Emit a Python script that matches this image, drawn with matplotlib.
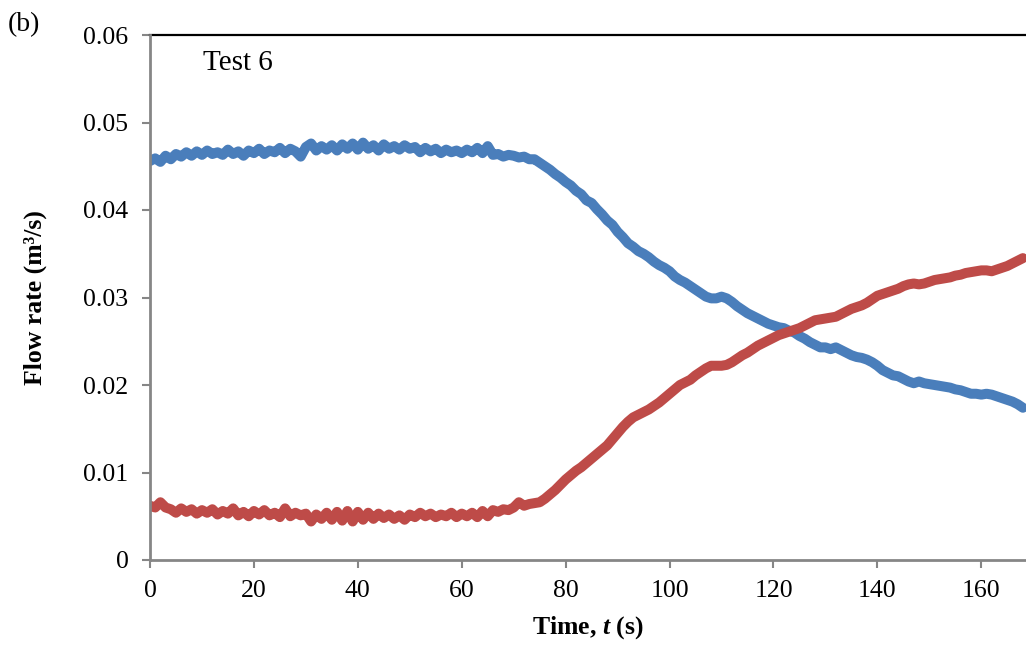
import matplotlib
matplotlib.use("Agg")
import matplotlib.pyplot as plt
import numpy as np

# ---- data (1 s resolution) ----
time_s = list(range(0, 169))

flow_blue = [
    0.0456, 0.0459, 0.0455, 0.0462, 0.0458, 0.0464, 0.0461, 0.0466, 0.0462, 0.0467,
    0.0463, 0.0468, 0.0464, 0.0466, 0.0463, 0.0469, 0.0464, 0.0467, 0.0462, 0.0468,
    0.0465, 0.0470, 0.0464, 0.0468, 0.0466, 0.0471, 0.0465, 0.0470, 0.0467, 0.0461,
    0.0472, 0.0476, 0.0468, 0.0473, 0.0469, 0.0474, 0.0468, 0.0475, 0.0470, 0.0476,
    0.0469, 0.0477, 0.0470, 0.0474, 0.0468, 0.0475, 0.0470, 0.0473, 0.0469, 0.0474,
    0.0470, 0.0472, 0.0466, 0.0471, 0.0467, 0.0470, 0.0465, 0.0469, 0.0466, 0.0468,
    0.0465, 0.0469, 0.0466, 0.0471, 0.0465, 0.0473, 0.0463, 0.0464, 0.0461, 0.0463,
    0.0462, 0.0460, 0.0461, 0.0458, 0.0458, 0.0454, 0.0450, 0.0446, 0.0441, 0.0437,
    0.0432, 0.0428, 0.0422, 0.0418, 0.0411, 0.0408, 0.0401, 0.0395, 0.0388, 0.0383,
    0.0375, 0.0369, 0.0362, 0.0358, 0.0353, 0.0350, 0.0346, 0.0341, 0.0337, 0.0334,
    0.0330, 0.0324, 0.0320, 0.0317, 0.0313, 0.0309, 0.0305, 0.0301, 0.0299, 0.0299,
    0.0301, 0.0299, 0.0295, 0.0290, 0.0286, 0.0282, 0.0279, 0.0276, 0.0273, 0.0270,
    0.0268, 0.0266, 0.0265, 0.0262, 0.0260, 0.0256, 0.0253, 0.0249, 0.0246, 0.0243,
    0.0243, 0.0241, 0.0243, 0.0240, 0.0237, 0.0234, 0.0232, 0.0231, 0.0229, 0.0226,
    0.0222, 0.0217, 0.0214, 0.0211, 0.0210, 0.0207, 0.0204, 0.0202, 0.0204, 0.0202,
    0.0201, 0.0200, 0.0199, 0.0198, 0.0197, 0.0195, 0.0194, 0.0192, 0.0190, 0.0190,
    0.0189, 0.0190, 0.0189, 0.0187, 0.0185, 0.0183, 0.0181, 0.0178, 0.0174,
]

flow_red = [
    0.0062, 0.0060, 0.0066, 0.0060, 0.0058, 0.0054, 0.0059, 0.0055, 0.0058, 0.0053,
    0.0057, 0.0054, 0.0058, 0.0052, 0.0056, 0.0053, 0.0059, 0.0051, 0.0055, 0.0050,
    0.0056, 0.0052, 0.0057, 0.0051, 0.0054, 0.0049, 0.0059, 0.0050, 0.0054, 0.0051,
    0.0053, 0.0044, 0.0052, 0.0047, 0.0054, 0.0046, 0.0055, 0.0045, 0.0056, 0.0044,
    0.0055, 0.0046, 0.0054, 0.0047, 0.0053, 0.0048, 0.0052, 0.0047, 0.0051, 0.0046,
    0.0052, 0.0049, 0.0054, 0.0050, 0.0053, 0.0049, 0.0052, 0.0050, 0.0054, 0.0049,
    0.0053, 0.0050, 0.0054, 0.0049, 0.0056, 0.0050, 0.0057, 0.0055, 0.0058, 0.0057,
    0.0060, 0.0066, 0.0062, 0.0064, 0.0065, 0.0066, 0.0070, 0.0075, 0.0080, 0.0086,
    0.0092, 0.0097, 0.0102, 0.0106, 0.0111, 0.0116, 0.0121, 0.0126, 0.0131, 0.0138,
    0.0145, 0.0152, 0.0158, 0.0163, 0.0166, 0.0169, 0.0172, 0.0176, 0.0180, 0.0185,
    0.0190, 0.0195, 0.0200, 0.0203, 0.0206, 0.0211, 0.0215, 0.0219, 0.0222, 0.0222,
    0.0222, 0.0223, 0.0226, 0.0230, 0.0234, 0.0237, 0.0241, 0.0245, 0.0248, 0.0251,
    0.0254, 0.0257, 0.0259, 0.0261, 0.0263, 0.0265, 0.0268, 0.0271, 0.0274, 0.0275,
    0.0276, 0.0277, 0.0278, 0.0281, 0.0284, 0.0287, 0.0289, 0.0291, 0.0294, 0.0298,
    0.0302, 0.0304, 0.0306, 0.0308, 0.0310, 0.0313, 0.0315, 0.0316, 0.0315, 0.0316,
    0.0318, 0.0320, 0.0321, 0.0322, 0.0323, 0.0325, 0.0326, 0.0328, 0.0329, 0.0330,
    0.0331, 0.0331, 0.0330, 0.0332, 0.0334, 0.0336, 0.0339, 0.0342, 0.0345,
]

x_ticks = [0, 20, 40, 60, 80, 100, 120, 140, 160]
y_ticks = [0, 0.01, 0.02, 0.03, 0.04, 0.05, 0.06]
y_tick_labels = ["0", "0.01", "0.02", "0.03", "0.04", "0.05", "0.06"]

# ---- style ----
plt.rcParams["font.family"] = ["Liberation Serif", "DejaVu Serif"]
plt.rcParams["mathtext.fontset"] = "custom"
plt.rcParams["mathtext.it"] = "Liberation Serif:bold:italic"
plt.rcParams["mathtext.rm"] = "Liberation Serif:bold"
plt.rcParams["mathtext.bf"] = "Liberation Serif:bold"

fig = plt.figure(figsize=(10.26, 6.46), dpi=100)
ax = fig.add_axes([150 / 1026, 86 / 646, 876 / 1026, 525 / 646])

blue = "#4A7EBB"
red = "#BE4B48"
ax.plot(time_s, flow_blue, color=blue, lw=7.2, solid_joinstyle="round",
        solid_capstyle="round", zorder=3)
ax.plot(time_s, flow_red, color=red, lw=7.2, solid_joinstyle="round",
        solid_capstyle="round", zorder=4)

ax.set_xlim(0, 168.6)
ax.set_ylim(0, 0.06)
ax.set_xticks(x_ticks)
ax.set_xticklabels([str(v) for v in x_ticks])
ax.set_yticks(y_ticks)
ax.set_yticklabels(y_tick_labels)

for s in ["right", "top"]:
    ax.spines[s].set_visible(False)
for s in ["left", "bottom"]:
    ax.spines[s].set_color("#868686")
    ax.spines[s].set_linewidth(2.0)
    ax.spines[s].set_zorder(5)

ax.axhline(0.06, color="black", lw=1.6, zorder=2, clip_on=False)

ax.tick_params(axis="both", direction="out", length=5.5, width=1.5,
               color="#868686", labelsize=18.5, labelcolor="black")
ax.tick_params(axis="y", pad=10)
ax.tick_params(axis="x", pad=9)

ax.set_xlabel(r"Time, $t$ (s)", fontsize=18.5, fontweight="bold", labelpad=9)
ax.set_ylabel("Flow rate (m³/s)", fontsize=18.5, fontweight="bold", labelpad=26)

ax.text(10.2, 0.0568, "Test 6", fontsize=21, ha="left", va="center")
fig.text(8 / 1026, 1 - 25 / 646, "(b)", fontsize=20, ha="left", va="center")

fig.savefig("out.png", dpi=100)
